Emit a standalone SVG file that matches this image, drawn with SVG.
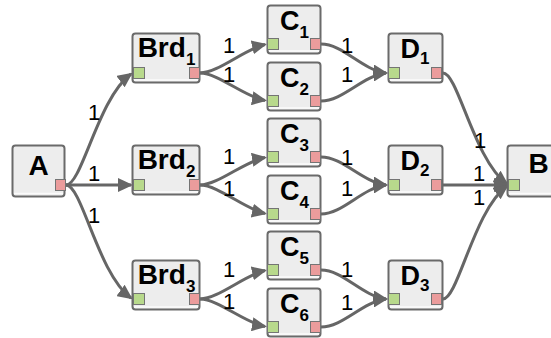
<svg xmlns="http://www.w3.org/2000/svg" width="551" height="338" viewBox="0 0 551 338">
<defs>
<marker id="arr" markerUnits="userSpaceOnUse" viewBox="0 0 15 14" markerWidth="15" markerHeight="14" refX="13" refY="7" orient="auto">
<path d="M0,0 L15,7 L0,14 z" fill="#666666"/>
</marker>
<style>
.box{fill:#ededed;stroke:#6a6a6a;stroke-width:2}
.hl{stroke:#fbfbfb;stroke-width:1.5}
.in{fill:#b8d98c;stroke:#747474;stroke-width:1}
.out{fill:#eb9c9c;stroke:#747474;stroke-width:1}
.t{font-family:"Liberation Sans",Arial,sans-serif;font-weight:bold;font-size:27px;fill:#000;text-anchor:middle}
.big{font-size:28px}
.s{font-size:17px}
.e{fill:none;stroke:#666666;stroke-width:3;marker-end:url(#arr)}
.l{font-family:"Liberation Sans",Arial,sans-serif;font-size:22px;fill:#000;text-anchor:middle}
</style>
</defs>
<rect width="551" height="338" fill="#ffffff"/>
<g id="connectors">
<path class="e" d="M66,185 C82,185 98,98 131,74"/>
<path class="e" d="M66,185 L131,185"/>
<path class="e" d="M66,185 C82,185 98,274 131,298"/>
<path class="e" d="M200,73 C218,73 245,49 265,44.5"/>
<path class="e" d="M200,73 C218,73 245,97 265,100.5"/>
<path class="e" d="M200,185 C218,185 245,161 265,157.5"/>
<path class="e" d="M200,185 C218,185 245,209 265,213.5"/>
<path class="e" d="M200,299 C218,299 245,275 265,270.5"/>
<path class="e" d="M200,299 C218,299 245,323 265,326.5"/>
<path class="e" d="M321,44 C343,44 362,70 386,73"/>
<path class="e" d="M321,101 C343,101 362,76 386,73"/>
<path class="e" d="M321,157 C343,157 362,182 386,185"/>
<path class="e" d="M321,214 C343,214 362,188 386,185"/>
<path class="e" d="M321,270 C343,270 362,296 386,299"/>
<path class="e" d="M321,327 C343,327 362,302 386,299"/>
<path class="e" d="M443,73 C458,73 474,160 507,184"/>
<path class="e" d="M443,185 L507,185"/>
<path class="e" d="M443,299 C458,299 474,210 507,186"/>
<text class="l" x="94" y="120">1</text>
<text class="l" x="94" y="181">1</text>
<text class="l" x="94" y="223">1</text>
<text class="l" x="229" y="53">1</text>
<text class="l" x="229" y="82">1</text>
<text class="l" x="229" y="164">1</text>
<text class="l" x="229" y="196">1</text>
<text class="l" x="229" y="277">1</text>
<text class="l" x="229" y="309">1</text>
<text class="l" x="347" y="53">1</text>
<text class="l" x="347" y="82">1</text>
<text class="l" x="347" y="165">1</text>
<text class="l" x="347" y="196">1</text>
<text class="l" x="347" y="277">1</text>
<text class="l" x="347" y="310">1</text>
<text class="l" x="480" y="148">1</text>
<text class="l" x="479" y="181">1</text>
<text class="l" x="479" y="205">1</text>
</g>
<g id="A">
<rect class="box" x="12.5" y="145.5" width="52" height="51" rx="3"/>
<line class="hl" x1="14" y1="193.5" x2="63" y2="193.5"/>
<rect class="out" x="55.5" y="179.5" width="10" height="11"/>
<text class="t big" x="38.5" y="175">A</text>
</g>
<g id="Brd1">
<rect class="box" x="132.5" y="33.5" width="67" height="49" rx="3"/>
<line class="hl" x1="134" y1="80" x2="198" y2="80"/>
<rect class="in" x="133.5" y="67.5" width="11" height="11"/>
<rect class="out" x="189.5" y="67.5" width="10" height="11"/>
<text class="t big" x="166.5" y="57">Brd<tspan class="s" dy="8">1</tspan></text>
</g>
<g id="Brd2">
<rect class="box" x="132.5" y="145.5" width="67" height="49" rx="3"/>
<line class="hl" x1="134" y1="192" x2="198" y2="192"/>
<rect class="in" x="133.5" y="179.5" width="11" height="11"/>
<rect class="out" x="189.5" y="179.5" width="10" height="11"/>
<text class="t big" x="166.5" y="169">Brd<tspan class="s" dy="8">2</tspan></text>
</g>
<g id="Brd3">
<rect class="box" x="132.5" y="260.5" width="67" height="49" rx="3"/>
<line class="hl" x1="134" y1="307" x2="198" y2="307"/>
<rect class="in" x="133.5" y="293.5" width="11" height="11"/>
<rect class="out" x="189.5" y="293.5" width="10" height="11"/>
<text class="t big" x="166.5" y="284">Brd<tspan class="s" dy="8">3</tspan></text>
</g>
<g id="C1">
<rect class="box" x="267.5" y="5.5" width="53" height="48" rx="3"/>
<line class="hl" x1="269" y1="51" x2="319" y2="51"/>
<rect class="in" x="267.5" y="38.5" width="11" height="11"/>
<rect class="out" x="310.5" y="38.5" width="10" height="11"/>
<text class="t" x="294.5" y="30">C<tspan class="s" dy="8">1</tspan></text>
</g>
<g id="C2">
<rect class="box" x="267.5" y="62.5" width="53" height="48" rx="3"/>
<line class="hl" x1="269" y1="108" x2="319" y2="108"/>
<rect class="in" x="267.5" y="95.5" width="11" height="11"/>
<rect class="out" x="310.5" y="95.5" width="10" height="11"/>
<text class="t" x="294.5" y="87">C<tspan class="s" dy="8">2</tspan></text>
</g>
<g id="C3">
<rect class="box" x="267.5" y="118.5" width="53" height="48" rx="3"/>
<line class="hl" x1="269" y1="164" x2="319" y2="164"/>
<rect class="in" x="267.5" y="151.5" width="11" height="11"/>
<rect class="out" x="310.5" y="151.5" width="10" height="11"/>
<text class="t" x="294.5" y="143">C<tspan class="s" dy="8">3</tspan></text>
</g>
<g id="C4">
<rect class="box" x="267.5" y="175.5" width="53" height="48" rx="3"/>
<line class="hl" x1="269" y1="221" x2="319" y2="221"/>
<rect class="in" x="267.5" y="208.5" width="11" height="11"/>
<rect class="out" x="310.5" y="208.5" width="10" height="11"/>
<text class="t" x="294.5" y="200">C<tspan class="s" dy="8">4</tspan></text>
</g>
<g id="C5">
<rect class="box" x="267.5" y="231.5" width="53" height="48" rx="3"/>
<line class="hl" x1="269" y1="277" x2="319" y2="277"/>
<rect class="in" x="267.5" y="264.5" width="11" height="11"/>
<rect class="out" x="310.5" y="264.5" width="10" height="11"/>
<text class="t" x="294.5" y="256">C<tspan class="s" dy="8">5</tspan></text>
</g>
<g id="C6">
<rect class="box" x="267.5" y="288.5" width="53" height="48" rx="3"/>
<line class="hl" x1="269" y1="334" x2="319" y2="334"/>
<rect class="in" x="267.5" y="321.5" width="11" height="11"/>
<rect class="out" x="310.5" y="321.5" width="10" height="11"/>
<text class="t" x="294.5" y="313">C<tspan class="s" dy="8">6</tspan></text>
</g>
<g id="D1">
<rect class="box" x="388.5" y="33.5" width="54" height="49" rx="3"/>
<line class="hl" x1="390" y1="80" x2="441" y2="80"/>
<rect class="in" x="388.5" y="67.5" width="11" height="11"/>
<rect class="out" x="431.5" y="67.5" width="10" height="11"/>
<text class="t" x="415" y="58">D<tspan class="s" dy="6">1</tspan></text>
</g>
<g id="D2">
<rect class="box" x="388.5" y="145.5" width="54" height="49" rx="3"/>
<line class="hl" x1="390" y1="192" x2="441" y2="192"/>
<rect class="in" x="388.5" y="179.5" width="11" height="11"/>
<rect class="out" x="431.5" y="179.5" width="10" height="11"/>
<text class="t" x="415" y="170">D<tspan class="s" dy="6">2</tspan></text>
</g>
<g id="D3">
<rect class="box" x="388.5" y="260.5" width="54" height="49" rx="3"/>
<line class="hl" x1="390" y1="307" x2="441" y2="307"/>
<rect class="in" x="388.5" y="293.5" width="11" height="11"/>
<rect class="out" x="431.5" y="293.5" width="10" height="11"/>
<text class="t" x="415" y="285">D<tspan class="s" dy="6">3</tspan></text>
</g>
<g id="B">
<rect class="box" x="507.5" y="145.5" width="52" height="51" rx="3"/>
<line class="hl" x1="509" y1="193.5" x2="558" y2="193.5"/>
<rect class="in" x="508.5" y="179.5" width="11" height="11"/>
<text class="t big" x="538.5" y="173">B</text>
</g>
</svg>
